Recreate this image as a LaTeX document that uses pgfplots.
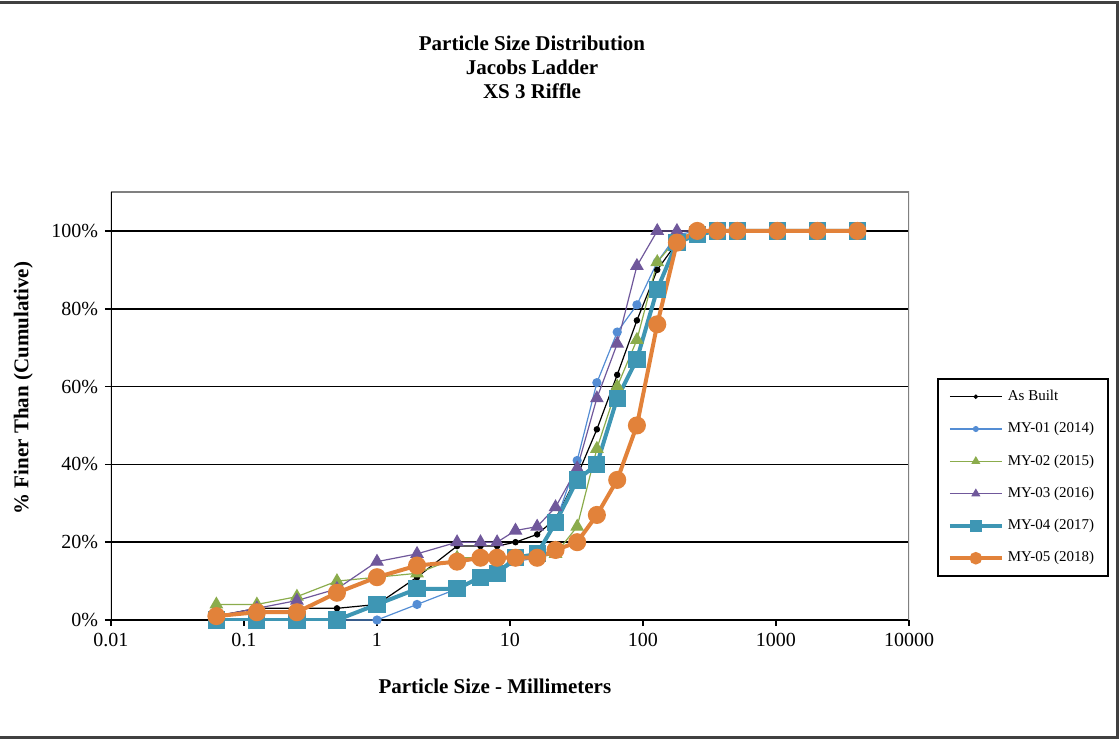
\documentclass[border=0pt]{standalone}
\usepackage{fontspec}
\setmainfont{Liberation Serif}
\usepackage{pgfplots}
\pgfplotsset{compat=1.18}
\usepackage{pgfplotstable}

\definecolor{cblue}{RGB}{84,141,212}
\definecolor{cgreen}{RGB}{139,172,76}
\definecolor{cpurple}{RGB}{112,88,155}
\definecolor{cteal}{RGB}{62,150,180}
\definecolor{corange}{RGB}{226,130,58}

\pgfplotstableread{
size  asb  my1  my2  my3  my4  my5
0.062 1    0    4    1    0    1
0.125 3    0    4    3    0    2
0.25  3    0    6    5    0    2
0.5   3    0    10   8    0    7
1     4    0    11   15   4    11
2     11   4    12   17   8    14
4     19   8    16   20   8    15
6     19   11   16   20   11   16
8     19   12   16   20   12   16
11    20   15   16   23   16   16
16    22   16   16   24   17   16
22    26   25   17   29   25   18
32    37   41   24   39   36   20
45    49   61   44   57   40   27
64    63   74   60   71   57   36
90    77   81   72   91   67   50
128   90   92   92   100  85   76
180   97   99   98   100  97   97
256   100  100  100  100  99   100
362   100  100  100  100  100  100
512   100  100  100  100  100  100
1024  100  100  100  100  100  100
2048  100  100  100  100  100  100
4096  100  100  100  100  100  100
}\data

\begin{document}
\begin{tikzpicture}
\useasboundingbox (0,0) rectangle (560pt,370pt);
\draw[line width=1.5pt, black!75] (0,368.5pt) -- (558.5pt,368.5pt) -- (558.5pt,1.5pt) -- (0,1.5pt);
\node[align=center, font=\bfseries\fontsize{10.5}{12}\selectfont] at (266pt,336.5pt) {Particle Size Distribution\\Jacobs Ladder\\XS 3 Riffle};
\begin{axis}[
  at={(55.5pt,60pt)}, anchor=south west,
  scale only axis, width=399pt, height=214pt,
  xmode=log, xmin=0.01, xmax=10000, ymin=0, ymax=110,
  xtick={0.01,0.1,1,10,100,1000,10000},
  xticklabels={0.01,0.1,1,10,100,1000,10000},
  xminorticks=false,
  ytick={0,20,40,60,80,100},
  yticklabels={0\%,20\%,40\%,60\%,80\%,100\%},
  tick align=outside, xtick pos=bottom, ytick pos=left,
  major tick length=3pt,
  tick style={black, line width=0.8pt},
  ymajorgrids, grid style={black, line width=0.8pt},
  axis line style={draw=none},
  tick label style={font=\fontsize{10}{12}\selectfont},
  label style={font=\bfseries\fontsize{10.5}{12}\selectfont},
  xlabel={Particle Size - Millimeters},
  ylabel={\% Finer Than (Cumulative)},
  xlabel style={at={(axis description cs:0.481,-0.154)}, anchor=center},
  ylabel style={at={(axis description cs:-0.11,0.542)}, anchor=center},
  legend style={at={(1.035,0.333)}, anchor=west, draw=black, line width=0.9pt,
    font=\fontsize{7.5}{9}\selectfont, row sep=5.45pt, inner xsep=5pt, inner ysep=3.5pt,
    cells={anchor=west}},
  legend image code/.code={\draw[mark repeat=2,mark phase=2,#1, every mark/.append style={scale=0.6}] plot coordinates {(0pt,0pt) (13pt,0pt) (26pt,0pt)};},
]
\draw[gray, line width=0.6pt] (rel axis cs:0,1) -- (rel axis cs:1,1) -- (rel axis cs:1,0);
\draw[black, line width=0.8pt] (rel axis cs:0,0) -- (rel axis cs:0,1);
\addplot[black, line width=0.6pt, mark=*, mark size=1.3pt] table[x=size,y=asb] {\data};
\addlegendentry{As Built}
\addplot[cblue, line width=0.6pt, mark=*, mark size=2pt] table[x=size,y=my1] {\data};
\addlegendentry{MY-01 (2014)}
\addplot[cgreen, line width=0.6pt, mark=triangle*, mark size=3.4pt] table[x=size,y=my2] {\data};
\addlegendentry{MY-02 (2015)}
\addplot[cpurple, line width=0.6pt, mark=triangle*, mark size=3.4pt] table[x=size,y=my3] {\data};
\addlegendentry{MY-03 (2016)}
\addplot[cteal, line width=2pt, mark=square*, mark size=3.3pt] table[x=size,y=my4] {\data};
\addlegendentry{MY-04 (2017)}
\addplot[corange, line width=2pt, mark=*, mark size=3.5pt] table[x=size,y=my5] {\data};
\addlegendentry{MY-05 (2018)}
\end{axis}
\end{tikzpicture}
\end{document}
